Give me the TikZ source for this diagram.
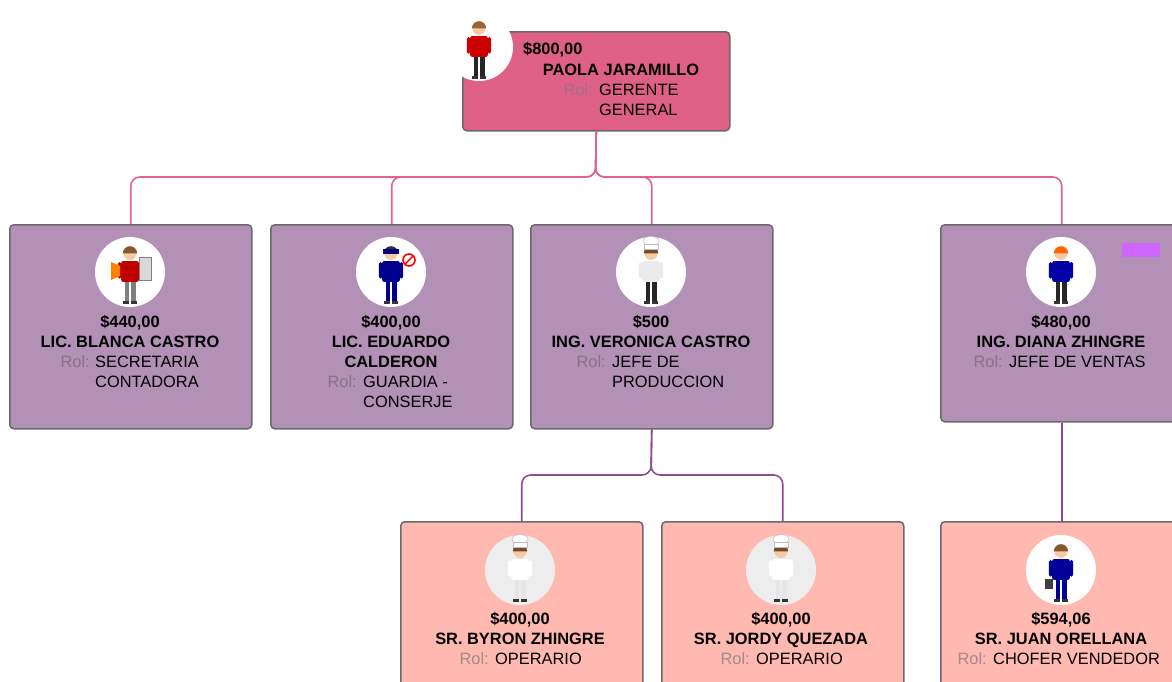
\documentclass[tikz,border=0pt]{standalone}
\usepackage{fontspec}
\setmainfont{Liberation Sans}
\definecolor{cardedge}{HTML}{6A6A6A}
\definecolor{topfill}{HTML}{DE6086}
\definecolor{midfill}{HTML}{B390B5}
\definecolor{lowfill}{HTML}{FFB9B1}
\definecolor{pinkline}{HTML}{E0648C}
\definecolor{purpleline}{HTML}{8B4C94}
\definecolor{rolgray}{HTML}{86748A}
\definecolor{rolgraylow}{HTML}{A08C8A}
\definecolor{tagmagenta}{HTML}{CC66FF}
\definecolor{skin}{HTML}{F6CBA4}
\definecolor{chefgray}{HTML}{EDEDED}

% simple cartoon figure: centre, hair, shirt, trousers
\newcommand\personfig[4]{%
  \begin{scope}[shift={(#1)}, scale=1.1]
    \fill[#4] (-5,6) rectangle (-1,27);
    \fill[#4] (1,6) rectangle (5,27);
    \fill[black!80] (-6,26) rectangle (-1,29);
    \fill[black!80] (1,26) rectangle (6,29);
    \fill[#3, rounded corners=2pt] (-8,-10) rectangle (8,9);
    \fill[#3, rounded corners=1.5pt] (-11,-9) rectangle (-8,6);
    \fill[#3, rounded corners=1.5pt] (8,-9) rectangle (11,6);
    \fill[skin] (0,-17) circle (6);
    \fill[#2] (-6.5,-17) arc[start angle=180, end angle=360, radius=6.5] -- cycle;
  \end{scope}}
% chef hat on top of a figure
\newcommand\chefhat[1]{%
  \begin{scope}[shift={(#1)}]
    \fill[white, draw=black!25, line width=0.5pt] (0,-31) ellipse (8 and 4.5);
    \fill[white, draw=black!25, line width=0.5pt] (-7,-23) rectangle (7,-28);
  \end{scope}}

\begin{document}
\begin{tikzpicture}[x=1pt, y=-1pt,
  card/.style={draw=cardedge, line width=1.5pt, rounded corners=4pt,
    inner sep=0pt, anchor=north west},
  topcard/.style={card, fill=topfill, minimum width=267pt, minimum height=99pt},
  midcard/.style={card, fill=midfill, minimum width=242pt, minimum height=204pt},
  lowcard/.style={card, fill=lowfill, minimum width=242pt, minimum height=170pt},
  pinkconn/.style={draw=pinkline, line width=1.6pt, rounded corners=9pt},
  purpleconn/.style={draw=purpleline, line width=1.6pt, rounded corners=9pt},
  txt/.style={inner sep=0pt, font=\fontsize{16.4}{19}\selectfont},
  price/.style={txt, font=\fontsize{16.4}{19}\selectfont\bfseries, anchor=base},
  pname/.style={txt, font=\fontsize{16.4}{19}\selectfont\bfseries, anchor=base},
  rol/.style={txt, text=rolgray, anchor=base east},
  rollow/.style={txt, text=rolgraylow, anchor=base east},
  roltext/.style={txt, anchor=base west},
  photo/.style={fill=white},
]
\useasboundingbox (0,0) rectangle (1172,681);
\clip (0,0) rectangle (1172,681);

% cards
\node[topcard] (top) at (462,31) {};
\node[midcard] (b1) at (9,224) {};
\node[midcard] (b2) at (270,224) {};
\node[midcard] (b3) at (530,224) {};
\node[midcard, minimum height=197pt] (b4) at (940,224) {};
\node[lowcard] (c1) at (400,521) {};
\node[lowcard] (c2) at (661,521) {};
\node[lowcard] (c3) at (940,521) {};

% connectors
\coordinate (j1) at (595.5,177);
\coordinate (j2) at (651,475);
\draw[pinkconn] (top.south) -- (j1) -| (b1.north);
\draw[pinkconn] (top.south) -- (j1) -| (b2.north);
\draw[pinkconn] (top.south) -- (j1) -| (b3.north);
\draw[pinkconn] (top.south) -- (j1) -| (b4.north);
\draw[purpleconn] (b3.south) -- (j2) -| (c1.north);
\draw[purpleconn] (b3.south) -- (j2) -| (c2.north);
\draw[purpleconn] (b4.south) -- (c3.north);

% photos
\fill[photo] (479,47) circle (34);
\personfig{479,47}{brown!80!black}{red!80!black}{black!85}
\fill[photo] (130,272) circle (35);
\personfig{130,272}{brown!70!black}{red!75!black}{gray}
\fill[orange] (111,262) -- (120,266) -- (120,276) -- (111,280) -- cycle;
\fill[black!15, draw=black!50, line width=0.5pt] (139,257) rectangle (151,280);
\fill[photo] (391,272) circle (35);
\personfig{391,272}{black!80}{blue!55!black}{blue!55!black}
\fill[blue!50!black] (383,249) rectangle (399,254);
\draw[red, line width=1.6pt, fill=white] (409,260) circle (6);
\draw[red, line width=1.4pt] (405,264) -- (413,256);
\fill[photo] (651,272) circle (35);
\personfig{651,272}{brown!60!black}{white!92!black}{black!85}
\chefhat{651,272}
\fill[photo] (1061,272) circle (35);
\personfig{1061,272}{orange!80!red}{blue!65!black}{black!85}
\fill[chefgray] (520,570) circle (35);
\personfig{520,570}{brown!60!black}{white}{white!90!black}
\chefhat{520,570}
\fill[chefgray] (781,570) circle (35);
\personfig{781,570}{brown!60!black}{white}{white!90!black}
\chefhat{781,570}
\fill[photo] (1061,570) circle (35);
\personfig{1061,570}{brown!70!black}{blue!60!black}{blue!60!black}
\fill[black!75] (1045,579) rectangle (1053,589);

% small tag
\fill[tagmagenta] (1122,243) rectangle (1160,257);

% top card text
\node[price, anchor=base west] (t1) at (523,54) {\$800,00};
\node[pname] (t2) at (621,75) {PAOLA JARAMILLO};
\node[rol, text=rolgray!70!topfill] (t3) at (593,95) {Rol:};
\node[roltext] (t4) at (599,95) {GERENTE};
\node[roltext] (t5) at (599,115) {GENERAL};

% first level
\node[price] (p1) at (130,327) {\$440,00};
\node[pname] (n1) at (130,347) {LIC. BLANCA CASTRO};
\node[rol] (r1) at (90,367) {Rol:};
\node[roltext] (s1a) at (95,367) {SECRETARIA};
\node[roltext] (s1b) at (95,387) {CONTADORA};

\node[price] (p2) at (391,327) {\$400,00};
\node[pname] (n2a) at (391,347) {LIC. EDUARDO};
\node[pname] (n2b) at (391,367) {CALDERON};
\node[rol] (r2) at (357,387) {Rol:};
\node[roltext] (s2a) at (363,387) {GUARDIA -};
\node[roltext] (s2b) at (363,407) {CONSERJE};

\node[price] (p3) at (651,327) {\$500};
\node[pname] (n3) at (651,347) {ING. VERONICA CASTRO};
\node[rol] (r3) at (606,367) {Rol:};
\node[roltext] (s3a) at (612,367) {JEFE DE};
\node[roltext] (s3b) at (612,387) {PRODUCCION};

\node[price] (p4) at (1061,327) {\$480,00};
\node[pname] (n4) at (1061,347) {ING. DIANA ZHINGRE};
\node[rol] (r4) at (1003,367) {Rol:};
\node[roltext] (s4) at (1009,367) {JEFE DE VENTAS};

% second level
\node[price] (p5) at (520,624) {\$400,00};
\node[pname] (n5) at (520,644) {SR. BYRON ZHINGRE};
\node[rollow] (r5) at (489,664) {Rol:};
\node[roltext] (s5) at (495,664) {OPERARIO};

\node[price] (p6) at (781,624) {\$400,00};
\node[pname] (n6) at (781,644) {SR. JORDY QUEZADA};
\node[rollow] (r6) at (750,664) {Rol:};
\node[roltext] (s6) at (756,664) {OPERARIO};

\node[price] (p7) at (1061,624) {\$594,06};
\node[pname] (n7) at (1061,644) {SR. JUAN ORELLANA};
\node[rollow] (r7) at (987,664) {Rol:};
\node[roltext] (s7) at (993,664) {CHOFER VENDEDOR};
\end{tikzpicture}
\end{document}
